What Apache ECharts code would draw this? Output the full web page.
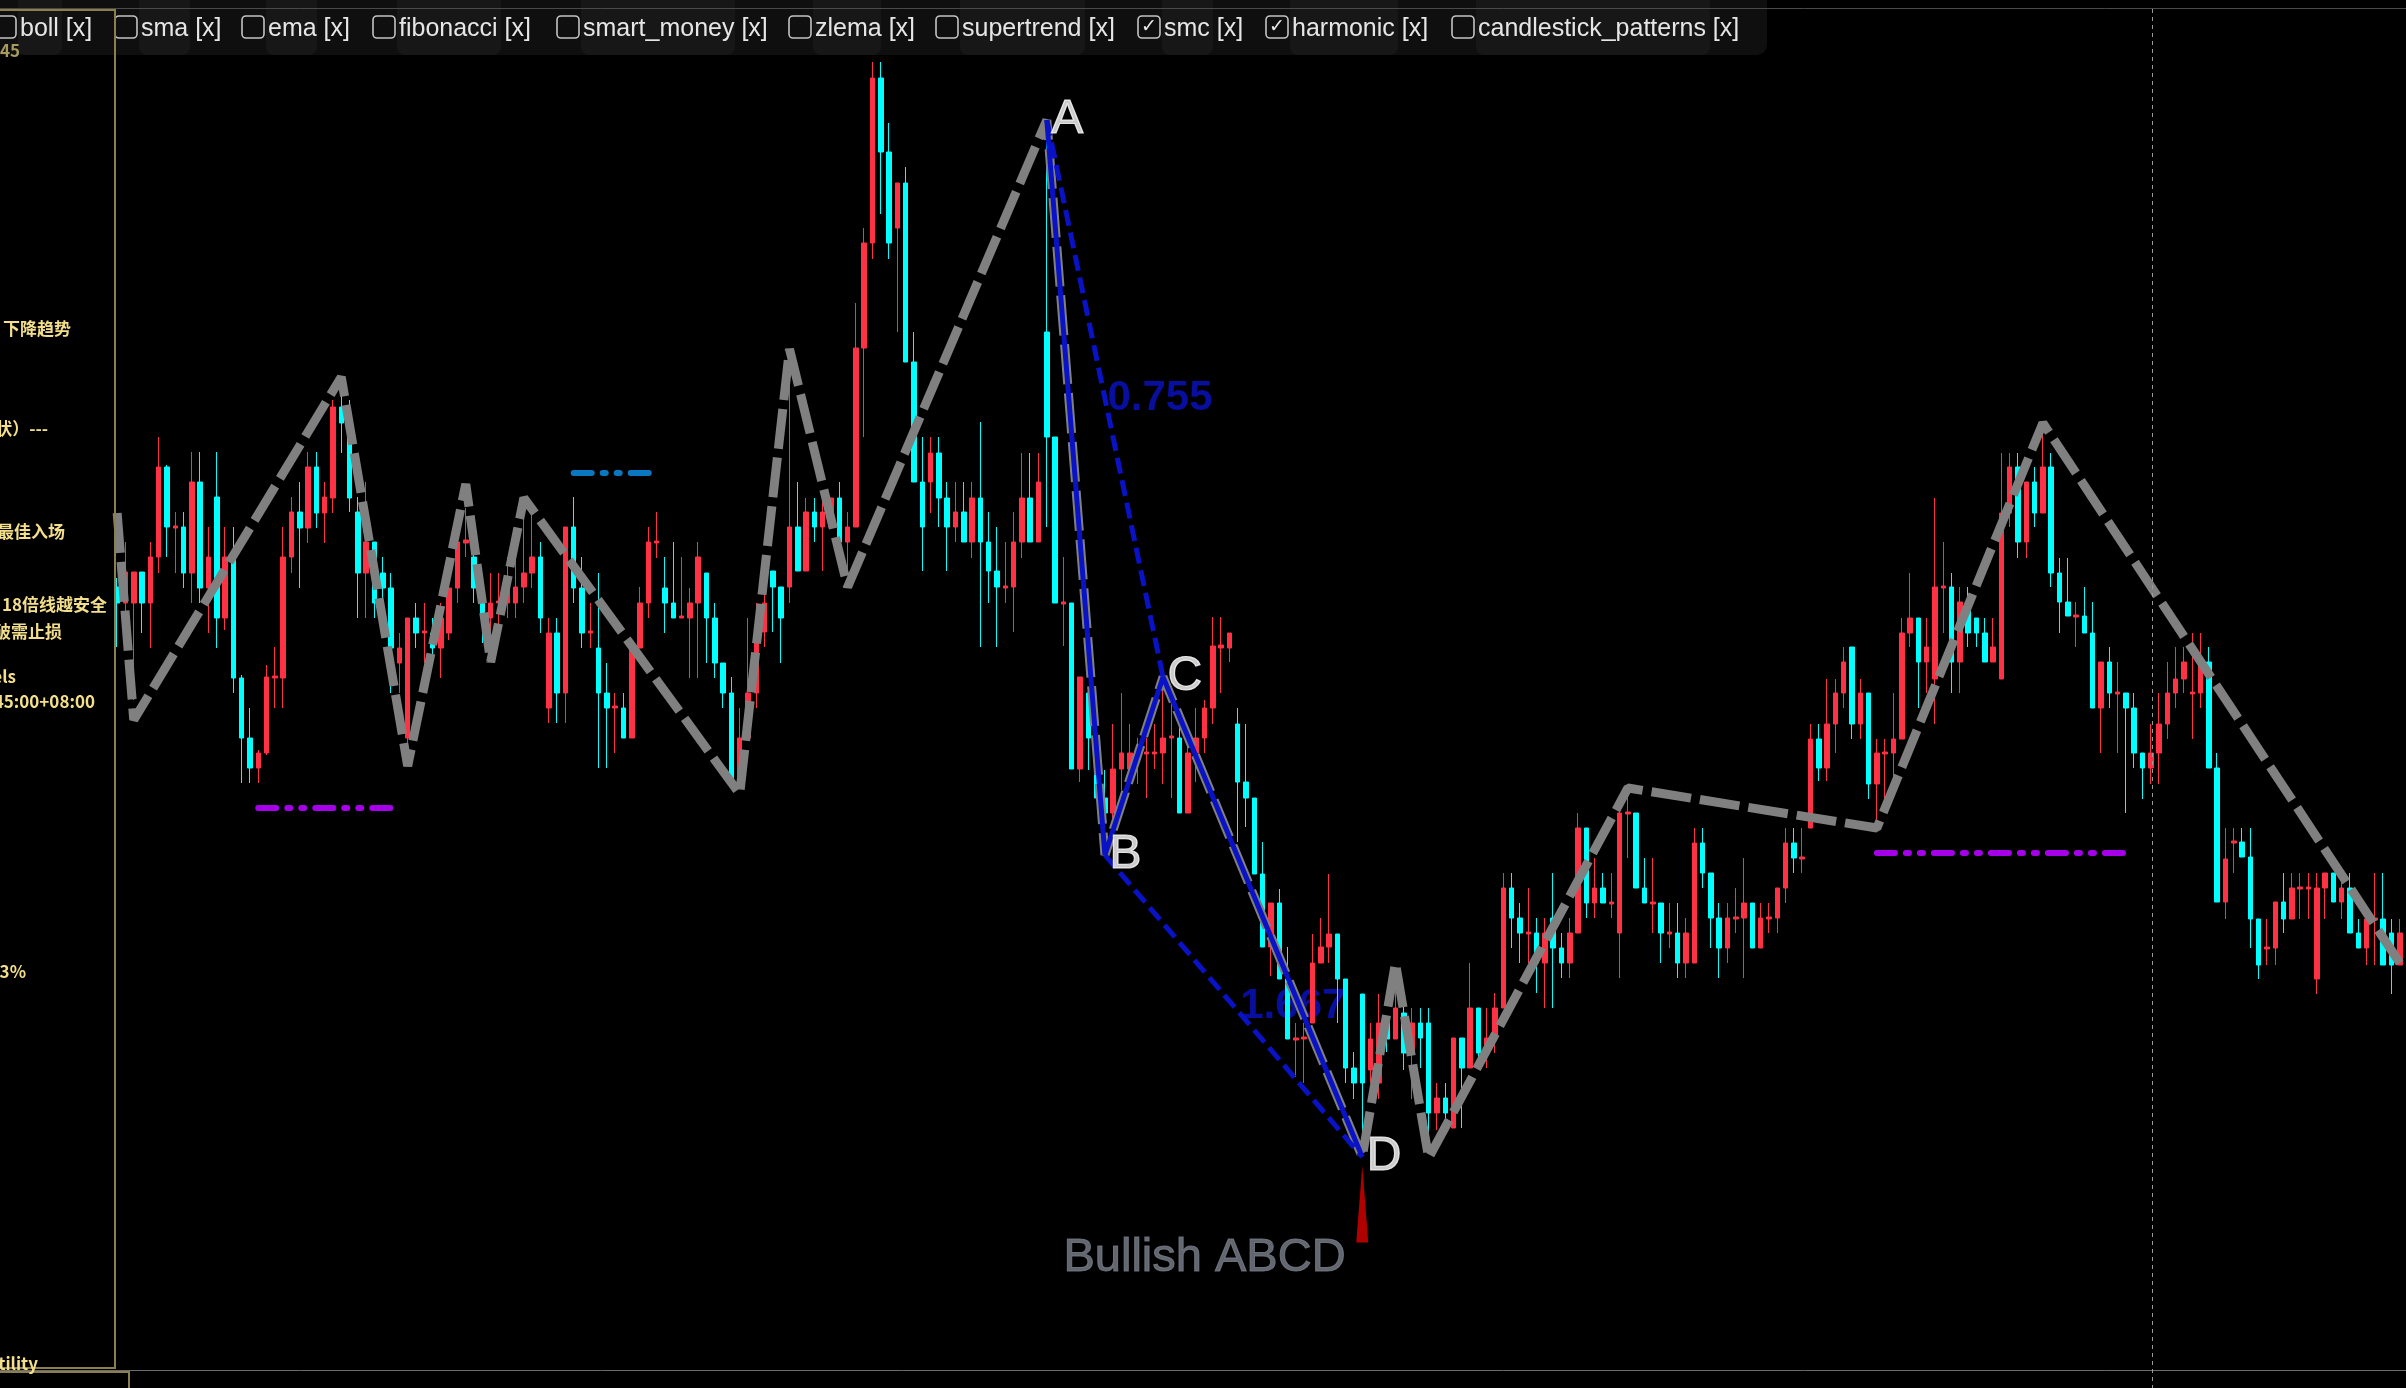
<!DOCTYPE html>
<html>
<head>
<meta charset="utf-8">
<title>Bullish ABCD</title>
<script src="https://cdn.jsdelivr.net/npm/echarts@6/dist/echarts.min.js"></script>
<style>
html,body{margin:0;padding:0;background:#000;overflow:hidden;}
#chart{width:2406px;height:1388px;}
</style>
</head>
<body>
<div id="chart"></div>
<script>
// ---------------- DATA ----------------
// candles: [open, close, low, high]
const candles = [
/*0*/  [813,797,753,822],[797,828,782,858],[797,828,700,828],[828,797,767,828],[797,843,752,858],[843,933,827,963],[933,873,843,935],[872,874,827,888],[873,827,812,888],[827,918,797,948],
/*10*/ [918,812,797,948],[812,843,767,873],[903,782,752,948],[782,843,770,873],[843,722,707,873],[722,662,617,725],[662,632,617,692],[632,647,617,650],[647,723,645,735],[722,724,692,753],
/*20*/ [722,843,692,873],[843,888,827,903],[888,872,812,918],[872,933,857,948],[933,887,872,948],[887,903,857,918],[902,993,887,1000],[993,977,947,1012],[972,902,888,1000],[888,827,782,903],
/*30*/ [827,858,782,918],[858,797,782,858],[827,812,767,843],[812,752,707,827],[737,752,707,767],[662,782,650,782],[782,767,752,797],[767,769,737,797],[767,752,737,782],[752,782,722,797],
/*40*/ [767,812,760,827],[812,858,797,888],[857,860,843,892],[843,812,797,873],[797,782,757,813],[782,797,757,827],[797,799,770,827],[797,813,782,843],[797,813,782,857],[813,827,797,890],
/*50*/ [827,843,812,888],[843,782,767,858],[692,767,677,782],[767,707,677,782],[707,873,677,873],[873,812,797,903],[812,767,752,843],[767,769,752,797],[752,707,632,827],[707,692,632,737],
/*60*/ [692,694,647,707],[692,662,662,707],[662,752,662,753],[752,797,752,813],[797,858,782,873],[857,859,842,888],[812,797,767,843],[797,782,782,858],[782,784,782,843],[782,797,722,812],
/*70*/ [797,843,722,858],[827,782,737,827],[782,737,722,797],[737,707,692,737],[707,617,617,723],[617,662,611,692],[662,707,662,782],[707,767,692,797],[768,797,753,813],[829,813,768,829],
/*80*/ [813,782,737,813],[813,873,797,1030],[873,829,829,918],[829,888,829,902],[888,873,858,902],[873,888,829,902],[873,902,873,902],[902,858,858,918],[858,873,829,888],[873,1052,873,1097],
/*90*/ [1052,1157,963,1172],[1157,1322,1141,1338],[1322,1248,1186,1338],[1248,1157,1141,1277],[1172,1217,1068,1217],[1217,1038,1038,1233],[1038,918,918,1068],[918,873,829,963],[918,947,887,963],[947,902,873,963],
/*100*/[902,873,829,918],[873,888,858,918],[888,858,858,918],[858,902,842,918],[902,858,753,978],[858,829,797,888],[829,813,753,873],[812,814,797,858],[813,858,768,888],[858,902,842,947],
/*110*/[902,858,858,947],[858,918,858,947],[1068,963,873,1280],[963,797,797,963],[796,798,754,843],[797,631,631,797],[631,723,618,723],[707,662,630,707],[662,602,602,662],[602,587,545,630],
/*120*/[587,631,578,676],[631,647,610,707],[631,647,616,676],[640,642,616,662],[646,648,602,662],[646,648,631,676],[647,662,616,723],[662,664,602,700],[662,587,587,676],[587,647,587,662],
/*130*/[647,662,618,692],[662,692,647,700],[692,754,676,783],[752,755,707,783],[752,767,738,767],[676,618,558,692],[618,602,573,676],[602,526,526,602],[526,453,453,558],[453,497,424,497],
/*140*/[497,421,421,511],[421,361,361,453],[360,362,323,377],[361,363,317,377],[377,437,377,466],[437,453,437,482],[453,466,437,526],[466,421,377,466],[421,332,317,421],[332,317,301,348],
/*150*/[406,317,243,406],[330,361,317,377],[317,377,301,406],[377,361,348,377],[361,392,361,412],[387,347,330,406],[347,377,301,392],[377,362,332,392],[377,287,265,392],[287,302,270,317],
/*160*/[302,287,272,317],[272,362,272,362],[362,332,272,362],[332,392,332,437],[392,347,340,392],[347,362,332,392],[362,392,347,407],[392,512,392,527],[512,482,452,527],[482,467,437,497],
/*170*/[466,468,437,512],[467,437,407,482],[437,467,392,482],[482,452,392,527],[452,437,422,467],[437,467,422,482],[467,572,467,587],[572,497,482,572],[497,512,482,542],[512,497,497,527],
/*180*/[496,498,482,527],[467,587,422,602],[586,588,542,612],[587,512,512,587],[512,497,497,542],[496,498,467,542],[497,467,437,497],[466,468,452,497],[467,437,422,497],[437,467,422,482],
/*190*/[437,557,437,572],[557,527,512,572],[527,482,452,527],[482,452,422,497],[452,482,437,497],[481,483,467,512],[482,497,422,542],[497,452,452,497],[452,482,452,497],[481,483,467,497],
/*200*/[482,512,467,512],[512,557,497,572],[557,542,527,572],[541,543,527,572],[572,661,572,676],[661,632,619,676],[632,676,619,721],[676,707,647,721],[707,738,692,753],[753,676,661,753],
/*210*/[676,707,661,721],[707,616,601,707],[616,647,572,661],[646,648,601,661],[647,661,616,707],[661,767,661,782],[767,782,753,827],[782,738,692,782],[738,753,707,782],[721,813,676,902],
/*220*/[812,814,767,858],[813,738,707,827],[738,798,707,813],[798,767,753,813],[782,767,753,782],[767,738,738,782],[738,753,738,782],[721,887,721,947],[887,933,873,947],[933,858,842,947],
/*230*/[858,918,842,918],[918,887,873,933],[887,933,887,970],[933,827,813,947],[827,798,767,842],[798,784,784,842],[783,785,753,798],[784,767,767,813],[767,692,692,798],[692,738,647,738],
/*240*/[738,707,692,753],[706,708,647,738],[707,692,587,707],[692,647,632,707],[647,632,601,647],[632,647,616,676],[647,676,616,707],[676,707,661,738],[707,721,692,753],[721,738,707,753],
/*250*/[706,708,661,767],[707,738,692,767],[738,632,632,753],[632,498,498,647],[498,541,481,572],[557,559,527,572],[558,543,543,572],[543,481,452,572],[481,435,421,481],[451,453,435,481],
/*260*/[452,498,435,498],[498,481,467,527],[481,512,481,527],[511,513,481,527],[511,513,481,527],[421,512,406,527],[512,527,481,527],[527,498,498,527],[498,512,481,527],[512,467,467,527],
/*270*/[467,452,452,481],[452,481,435,481],[480,482,435,527],[481,435,435,527],[467,435,406,481],[435,467,435,481]
];
const categories = candles.map((_, i) => 'K' + (i + 1));

// swing zigzag (smc)
const swingIdx = [0, 2, 27, 35, 42, 45, 49, 75, 81, 88, 112, 119, 126, 150, 154, 158, 182, 212, 232, 275];
const swingVal = [887, 680, 1023, 634, 916, 738, 902, 606, 1051, 813, 1280, 545, 723, 243, 437, 242, 612, 572, 977, 437];

// harmonic ABCD
const abcdNames = ['A', 'B', 'C', 'D'];
const abcdIdx = [112, 119, 126, 150];
const abcdVal = [1280, 545, 723, 243];
const abcdRatios = ['0.755', '1.667'];
const patternName = 'Bullish ABCD';

// dash-dot levels
const demandStart = [17, 212];
const demandEnd = [34, 242];
const demandPrice = [592, 547];
const supplyStart = [55];
const supplyEnd = [65];
const supplyPrice = [927];

// toolbar
const toolbarItems = ['boll', 'sma', 'ema', 'fibonacci', 'smart_money', 'zlema', 'supertrend', 'smc', 'harmonic', 'candlestick_patterns'];
const toolbarChecked = [false, false, false, false, false, false, false, true, true, false];

// left info panel fragments
const panelTexts = ['45', '下降趋势', '状）---', '最佳入场', '18倍线越安全', '破需止损', 'els', '45:00+08:00', '3%', 'atility', '100.0'];

// ---------------- LAYOUT ----------------
const UP = '#ff3145', DOWN = '#00ffff';
const BLUE = '#0a12c6';
const FONT = '"Liberation Sans", Arial, sans-serif';
const FONT_CJK = '"Noto Sans CJK SC", "Noto Sans", sans-serif';

const cbX = [-6, 115, 242, 373, 557, 789, 936, 1138, 1266, 1452];
const nameW = [40, 47, 47, 100, 150, 64, 121, 47, 104, 230];
const panelRightX = [20, 72, 48, 65, 107, 62, 16, 95, 26, 38, 40];
const panelY = [51, 329, 429, 532, 605, 632, 677, 702, 972, 1364, 1396];
const panelAlign = ['right', 'left', 'right', 'right', 'right', 'right', 'right', 'right', 'right', 'right', 'right'];

const graphics = [];
// axis line bottom + crosshair
graphics.push({type: 'line', z: 95, shape: {x1: 0, y1: 1370.5, x2: 2406, y2: 1370.5}, style: {stroke: '#6c6c6c', lineWidth: 1}});
graphics.push({type: 'line', z: 95, shape: {x1: 2152.5, y1: 9, x2: 2152.5, y2: 1388}, style: {stroke: '#9a9a9a', lineWidth: 1, lineDash: [4, 4]}});
// toolbar
graphics.push({type: 'rect', z: 100, shape: {x: -10, y: -10, width: 1777, height: 65, r: [0, 0, 10, 0]}, style: {fill: '#0f0f0f'}});
toolbarItems.forEach((name, k) => {
  const x = cbX[k];
  graphics.push({type: 'rect', z: 101, shape: {x: x + 24, y: -10, width: nameW[k] + 4, height: 65, r: 8}, style: {fill: '#171717'}});
  graphics.push({type: 'rect', z: 102, shape: {x: x, y: 16, width: 22, height: 22, r: 4}, style: {fill: 'rgba(0,0,0,0)', stroke: '#c4c4c4', lineWidth: 1.6}});
  if (toolbarChecked[k]) {
    graphics.push({type: 'text', z: 103, x: x + 11, y: 27.5, style: {text: '✓', align: 'center', verticalAlign: 'middle', fill: '#e8e8e8', font: 'bold 19px "DejaVu Sans"'}});
  }
  graphics.push({type: 'text', z: 103, x: x + 26, y: 29, style: {text: name + ' [x]', verticalAlign: 'middle', fill: '#e6e6e6', font: '25px ' + FONT}});
});
graphics.push({type: 'line', z: 104, shape: {x1: 0, y1: 8.5, x2: 2406, y2: 8.5}, style: {stroke: '#4a4a4a', lineWidth: 1}});
// left panel box (above toolbar)
graphics.push({type: 'rect', z: 105, shape: {x: -3, y: 10, width: 118, height: 1358}, style: {fill: 'rgba(0,0,0,0)', stroke: '#8b7f4e', lineWidth: 2}});
graphics.push({type: 'rect', z: 105, shape: {x: -3, y: 1372, width: 132, height: 40}, style: {fill: 'rgba(0,0,0,0)', stroke: '#8b7f4e', lineWidth: 2}});
panelTexts.forEach((t, k) => {
  graphics.push({type: 'text', z: 106, x: panelAlign[k] === 'left' ? 3 : panelRightX[k], y: panelY[k],
    style: {text: t, align: panelAlign[k], verticalAlign: 'middle', fill: k === 0 ? '#a69a60' : '#f3df8b',
      font: 'bold 17px ' + FONT_CJK}});
});

// ---------------- SERIES ----------------
const pts = (idx, val) => idx.map((x, k) => [x, val[k]]);
const abcdPts = pts(abcdIdx, abcdVal);

const ratioData = [
  {name: abcdRatios[0], value: [(abcdIdx[0] + abcdIdx[2]) / 2, (abcdVal[0] + abcdVal[2]) / 2]},
  {name: abcdRatios[1], value: [(abcdIdx[1] + abcdIdx[3]) / 2, (abcdVal[1] + abcdVal[3]) / 2]}
];

const levelSeries = [];
demandStart.forEach((s, k) => {
  levelSeries.push({type: 'line', z: 3, symbol: 'none', silent: true,
    data: [[s, demandPrice[k]], [demandEnd[k], demandPrice[k]]],
    lineStyle: {color: '#a600ea', width: 6, type: [18, 11, 3, 11, 3, 11], cap: 'round'}});
});
supplyStart.forEach((s, k) => {
  levelSeries.push({type: 'line', z: 3, symbol: 'none', silent: true,
    data: [[s, supplyPrice[k]], [supplyEnd[k], supplyPrice[k]]],
    lineStyle: {color: '#0a78c0', width: 6, type: [18, 11, 3, 11, 3, 11], cap: 'round'}});
});

const option = {
  backgroundColor: '#000',
  animation: false,
  grid: {left: 113, right: 2, top: 0, bottom: 18, containLabel: false},
  xAxis: {type: 'category', data: categories, show: false, boundaryGap: true},
  yAxis: {type: 'value', min: 30, max: 1400, show: false},
  graphic: {elements: graphics},
  series: [
    {type: 'scatter', z: 1, silent: true, symbolSize: 1, itemStyle: {color: 'rgba(0,0,0,0)'},
      data: ratioData,
      label: {show: true, position: 'right', distance: 2, formatter: '{b}', color: BLUE,
        fontSize: 42, fontWeight: 'bold', fontFamily: FONT}},
    {type: 'candlestick', z: 2, data: candles, barWidth: 5,
      itemStyle: {color: UP, color0: DOWN, borderColor: UP, borderColor0: DOWN, borderWidth: 1}},
    ...levelSeries,
    {type: 'line', z: 4, symbol: 'none', silent: true, data: pts(swingIdx, swingVal),
      lineStyle: {color: '#808080', width: 9, type: [40, 9], join: 'bevel', cap: 'butt'}},
    {type: 'line', z: 5, symbol: 'none', silent: true, data: abcdPts,
      lineStyle: {color: BLUE, width: 5, join: 'bevel'}},
    {type: 'line', z: 5, symbol: 'none', silent: true, data: [abcdPts[0], abcdPts[2]],
      lineStyle: {color: BLUE, width: 5, type: [16, 7]}},
    {type: 'line', z: 5, symbol: 'none', silent: true, data: [abcdPts[1], abcdPts[3]],
      lineStyle: {color: BLUE, width: 5, type: [16, 7]}},
    {type: 'scatter', z: 5, silent: true, symbol: 'triangle', symbolSize: [12, 77], symbolOffset: [0, 47],
      itemStyle: {color: '#dd0000'}, data: [abcdPts[3]]},
    {type: 'scatter', z: 6, silent: true, symbolSize: 1, itemStyle: {color: 'rgba(0,0,0,0)'},
      data: abcdNames.map((n, k) => ({name: n, value: abcdPts[k]})),
      label: {show: true, position: 'right', distance: 4, formatter: '{b}', color: '#ffffff',
        fontSize: 48, fontWeight: 'normal', fontFamily: FONT, textBorderColor: '#ffffff', textBorderWidth: 1.2}},
    {type: 'scatter', z: 6, silent: true, symbolSize: 1, itemStyle: {color: 'rgba(0,0,0,0)'},
      data: [{name: patternName, value: [(abcdIdx[0] + abcdIdx[3]) / 2, abcdVal[3]]}],
      label: {show: true, position: 'inside', offset: [0, 101], formatter: '{b}', color: '#7b7f8b',
        fontSize: 47, fontWeight: 'normal', fontFamily: FONT, textBorderColor: '#7b7f8b', textBorderWidth: 1}}
  ]
};

const chart = echarts.init(document.getElementById('chart'), null, {renderer: 'canvas', width: 2406, height: 1388});
chart.setOption(option);
</script>
</body>
</html>
